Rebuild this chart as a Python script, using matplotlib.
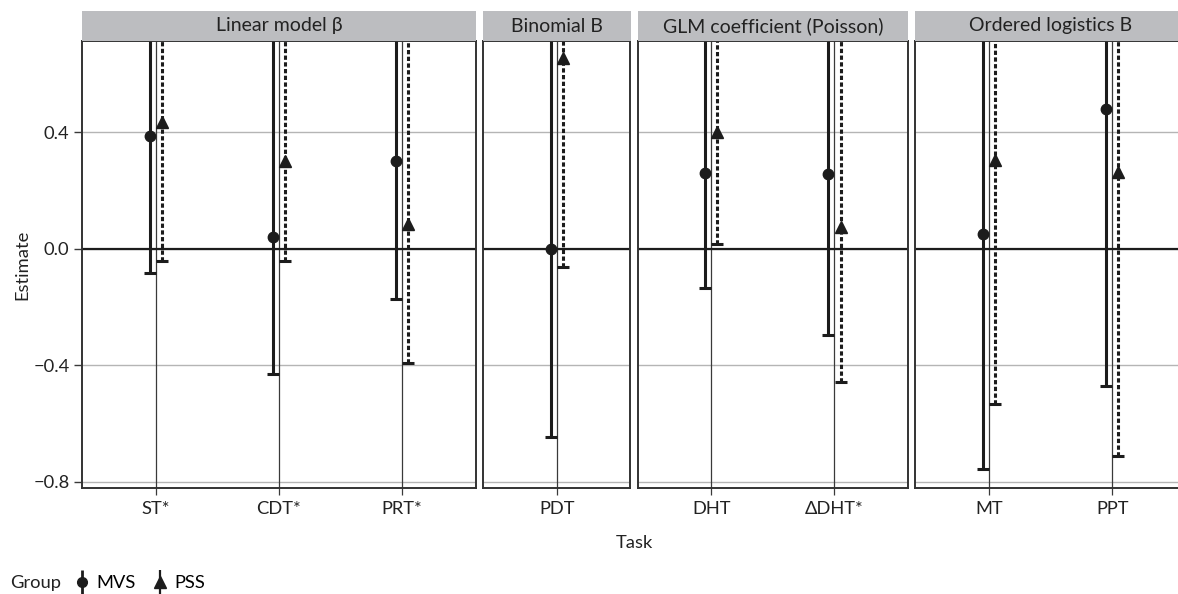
import matplotlib.pyplot as plt
from matplotlib.patches import Rectangle
from matplotlib.lines import Line2D
from matplotlib.legend_handler import HandlerTuple

plt.rcParams['font.family'] = ['Lato', 'DejaVu Sans']

# facets and tasks
facets = ['Linear model β', 'Binomial B', 'GLM coefficient (Poisson)', 'Ordered logistics B']
tasks = [['ST*', 'CDT*', 'PRT*'], ['PDT'], ['DHT', 'ΔDHT*'], ['MT', 'PPT']]

# group MVS (estimate, lower, upper) per facet
mvs_est = [[0.387, 0.041, 0.302], [0.0], [0.259, 0.256], [0.049, 0.479]]
mvs_low = [[-0.082, -0.430, -0.174], [-0.646], [-0.136, -0.297], [-0.757, -0.470]]
mvs_up = [[0.86, 0.80, 0.78], [0.95], [0.90, 0.85], [0.92, 0.95]]

# group PSS
pss_est = [[0.436, 0.302, 0.085], [0.653], [0.401, 0.073], [0.305, 0.264]]
pss_low = [[-0.042, -0.042, -0.393], [-0.064], [0.015, -0.458], [-0.533, -0.710]]
pss_up = [[0.92, 0.85, 0.80], [1.10], [0.95, 0.80], [0.90, 0.85]]

yticks = [-0.8, -0.4, 0.0, 0.4]
ylim = (-0.821, 0.7125)
dodge = 0.05

W, H = 1178, 594
fig = plt.figure(figsize=(W / 100, H / 100), dpi=100)

left_px, right_px, gap_px = 82, 1186, 7
top_px, bottom_px, strip_px = 41, 488, 30
units = [len(t) - 1 + 1.2 for t in tasks]
upx = (right_px - left_px - gap_px * (len(tasks) - 1)) / sum(units)

ink = '#1c1c1c'
txt = '#222222'
fs = 13.2
dash = (0, (1.4, 0.8))
x0 = left_px
for i, facet in enumerate(facets):
    w = units[i] * upx
    ax = fig.add_axes([x0 / W, 1 - bottom_px / H, w / W, (bottom_px - top_px) / H])
    n = len(tasks[i])
    xs = list(range(n))
    ax.set_xlim(-0.6, n - 1 + 0.6)
    ax.set_ylim(*ylim)

    for y in yticks:
        ax.axhline(y, color='#b5b5b5', lw=1.0, zorder=1)
    for x in xs:
        ax.axvline(x, color='#3a3a3a', lw=0.9, zorder=1)
    ax.axhline(0, color=ink, lw=1.6, zorder=2)

    xm = [x - dodge for x in xs]
    xp = [x + dodge for x in xs]
    ax.errorbar(xm, mvs_est[i],
                yerr=[[e - l for e, l in zip(mvs_est[i], mvs_low[i])],
                      [u - e for e, u in zip(mvs_est[i], mvs_up[i])]],
                fmt='o', color=ink, ms=7.5, elinewidth=2.2, capsize=4.5,
                capthick=2.2, zorder=4)
    e2 = ax.errorbar(xp, pss_est[i],
                     yerr=[[e - l for e, l in zip(pss_est[i], pss_low[i])],
                           [u - e for e, u in zip(pss_est[i], pss_up[i])]],
                     fmt='^', color=ink, ms=9, elinewidth=2.2, capsize=4.5,
                     capthick=2.2, zorder=4)
    e2[2][0].set_linestyle(dash)

    ax.set_xticks(xs)
    ax.set_xticklabels(tasks[i], fontsize=fs, color=txt)
    ax.tick_params(axis='x', length=5, width=0.9, color='#3a3a3a', pad=4)
    ax.set_yticks(yticks)
    if i == 0:
        ax.set_yticklabels(['−0.8', '−0.4', '0.0', '0.4'], fontsize=fs, color=txt)
        ax.tick_params(axis='y', length=6, width=1.0, color='#3a3a3a', pad=3)
    else:
        ax.tick_params(axis='y', length=0, labelleft=False)
    for s in ax.spines.values():
        s.set_color('#333333')
        s.set_linewidth(1.4)
        s.set_zorder(5)

    # strip
    fig.patches.append(Rectangle((x0 / W, 1 - top_px / H), w / W, strip_px / H,
                                 transform=fig.transFigure, facecolor='#bcbdc0',
                                 edgecolor='none'))
    fig.text((x0 + w / 2) / W, 1 - (top_px - strip_px / 2) / H, facet,
             ha='center', va='center', fontsize=14, color=txt)
    x0 += w + gap_px

fig.text(634 / W, 1 - 543 / H, 'Task', ha='center', va='center', fontsize=fs, color=txt)
fig.text(22 / W, 1 - 265 / H, 'Estimate', ha='center', va='center', rotation=90,
         fontsize=fs, color=txt)

# legend keys: marker with a vertical bar through it
bar_m = Line2D([], [], ls='none', marker='|', ms=17, mew=2.0, color=ink)
bar_p = Line2D([], [], ls='none', marker='|', ms=17, mew=1.6, color=ink)
dot = Line2D([], [], ls='none', marker='o', ms=7, color=ink)
tri = Line2D([], [], ls='none', marker='^', ms=8.5, color=ink)
fig.text(10 / W, 1 - 583 / H, 'Group', ha='left', va='center', fontsize=fs, color=txt)
fig.legend([(bar_m, dot), (bar_p, tri)], ['MVS', 'PSS'],
           handler_map={tuple: HandlerTuple(ndivide=1)},
           loc='center left', bbox_to_anchor=(74 / W, 1 - 583 / H),
           ncol=2, frameon=False, fontsize=fs, handlelength=0.9, handletextpad=0.3,
           columnspacing=0.9, borderpad=0, borderaxespad=0)

fig.savefig('out.png', dpi=100)
